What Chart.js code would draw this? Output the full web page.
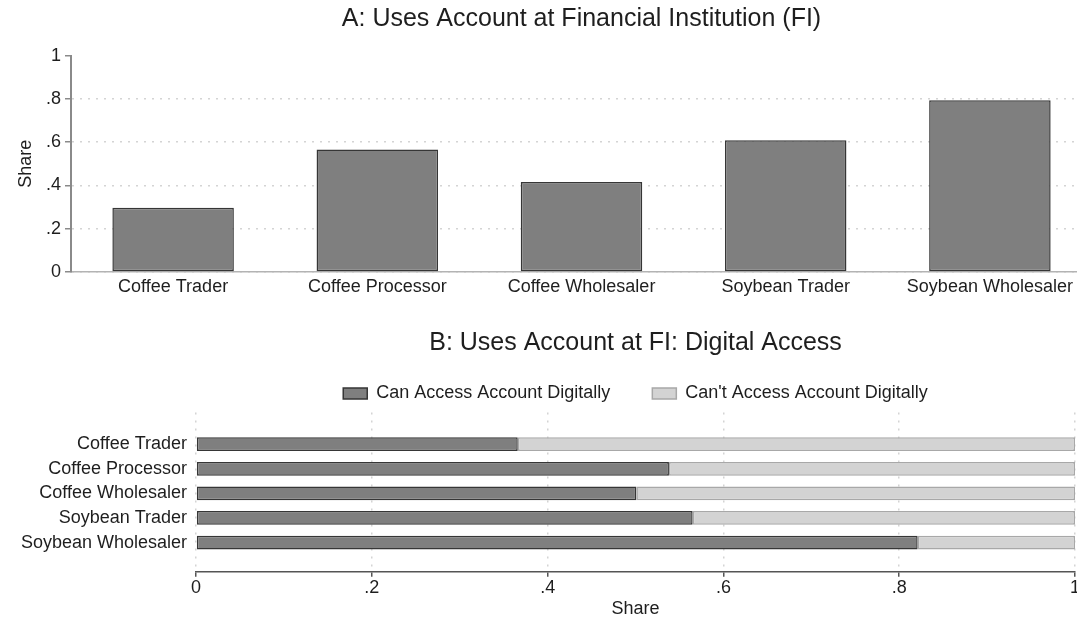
<!DOCTYPE html>
<html>
<head>
<meta charset="utf-8">
<script src="https://cdn.jsdelivr.net/npm/chart.js@4.4.1/dist/chart.umd.min.js"></script>
<style>
    html, body { margin: 0; padding: 0; background: #fff; overflow: hidden; }
    #wrap { position: relative; width: 1077px; height: 620px; overflow: hidden; }
    #topChart { position: absolute; left: 0; top: 0; }
    #bottomChart { position: absolute; left: 0; top: 320px; }
</style>
</head>
<body>
<div id="wrap">
    <canvas id="topChart" width="1093" height="300"></canvas>
    <canvas id="bottomChart" width="1090" height="300"></canvas>
</div>
<script>
// Actor types and shares
const categories = ['Coffee Trader', 'Coffee Processor', 'Coffee Wholesaler', 'Soybean Trader', 'Soybean Wholesaler'];
const usesAccount = [0.297, 0.566, 0.416, 0.609, 0.794];
const canAccess = [0.366, 0.538, 0.501, 0.565, 0.821];
const cannotAccess = [0.634, 0.462, 0.499, 0.435, 0.179];

// Axis ticks (Stata style labels)
const shareTicks = [0, 0.2, 0.4, 0.6, 0.8, 1];
const shareTickLabels = ['0', '.2', '.4', '.6', '.8', '1'];

const DARK = '#7f7f7f';
const DARK_EDGE = '#363636';
const LIGHT = '#d3d3d3';
const LIGHT_EDGE = '#a8a8a8';
const GRID = '#d4d4d4';
const TEXT = '#1e1e1e';

Chart.defaults.font.family = "'Liberation Sans', Arial, Helvetica, sans-serif";
Chart.defaults.font.size = 18;
Chart.defaults.color = TEXT;
Chart.defaults.animation = false;

function setShareTicks(scale) {
    scale.ticks = shareTicks.map(v => ({ value: v }));
}

// Panel A: vertical bars
new Chart(document.getElementById('topChart'), {
    type: 'bar',
    data: {
        labels: categories,
        datasets: [{
            label: 'Uses Account at FI',
            data: usesAccount,
            backgroundColor: DARK,
            borderColor: DARK_EDGE,
            borderWidth: 1.5,
            borderSkipped: false,
            barPercentage: 0.595,
            categoryPercentage: 1
        }]
    },
    options: {
        responsive: false,
        devicePixelRatio: 1,
        layout: { padding: { left: 0, right: 1, top: 0, bottom: -1.6 } },
        plugins: {
            legend: { display: false },
            tooltip: { enabled: false },
            title: {
                display: true,
                fullSize: false,
                text: 'A: Uses Account at Financial Institution (FI)',
                color: TEXT,
                font: { size: 25, weight: 'normal' },
                padding: { top: 4, bottom: 21.7 }
            }
        },
        scales: {
            x: {
                grid: { display: false, drawTicks: false },
                border: { display: true, color: '#b3b3b3', width: 1.5 },
                ticks: { padding: 4, color: TEXT, maxRotation: 0, autoSkip: false }
            },
            y: {
                min: 0,
                max: 1,
                afterBuildTicks: setShareTicks,
                title: {
                    display: true,
                    text: 'Share',
                    color: TEXT,
                    font: { size: 18 },
                    padding: { top: 15.7, bottom: 4.7 }
                },
                ticks: {
                    padding: 4,
                    color: TEXT,
                    callback: (v, i) => shareTickLabels[i]
                },
                grid: {
                    color: ctx => (ctx.tick && ctx.tick.value === 1) ? 'rgba(0,0,0,0)' : GRID,
                    lineWidth: 1.5,
                    drawTicks: true,
                    tickLength: 6,
                    tickColor: '#8a8a8a',
                    tickWidth: 1.5,
                    tickBorderDash: []
                },
                border: { display: true, color: '#8a8a8a', width: 2, dash: [2, 6] }
            }
        }
    }
});

// Panel B: horizontal stacked bars, index axis kept linear so the outer gaps can be set
new Chart(document.getElementById('bottomChart'), {
    type: 'bar',
    data: {
        datasets: [{
            label: 'Can Access Account Digitally',
            data: canAccess.map((v, i) => ({ x: v, y: i })),
            backgroundColor: DARK,
            borderColor: DARK_EDGE,
            borderWidth: 1.5,
            borderSkipped: false,
            barPercentage: 0.56,
            categoryPercentage: 1
        }, {
            label: "Can't Access Account Digitally",
            data: cannotAccess.map((v, i) => ({ x: v, y: i })),
            backgroundColor: LIGHT,
            borderColor: LIGHT_EDGE,
            borderWidth: 1.5,
            borderSkipped: false,
            barPercentage: 0.56,
            categoryPercentage: 1
        }]
    },
    options: {
        indexAxis: 'y',
        responsive: false,
        devicePixelRatio: 1,
        layout: { padding: { left: 12, right: 15, top: 0, bottom: 0 } },
        plugins: {
            tooltip: { enabled: false },
            title: {
                display: true,
                fullSize: false,
                text: 'B: Uses Account at FI: Digital Access',
                color: TEXT,
                font: { size: 25, weight: 'normal' },
                padding: { top: 8, bottom: -15.5 }
            },
            legend: {
                display: true,
                fullSize: false,
                position: 'top',
                labels: {
                    boxWidth: 24,
                    boxHeight: 11,
                    padding: 42,
                    color: TEXT,
                    font: { size: 18 }
                }
            }
        },
        scales: {
            x: {
                type: 'linear',
                stacked: true,
                min: 0,
                max: 1,
                afterBuildTicks: setShareTicks,
                title: {
                    display: true,
                    text: 'Share',
                    color: TEXT,
                    font: { size: 18 },
                    padding: { top: 0, bottom: 0 }
                },
                ticks: {
                    padding: 0,
                    color: TEXT,
                    maxRotation: 0,
                    callback: (v, i) => shareTickLabels[i]
                },
                grid: {
                    color: GRID,
                    lineWidth: 1.5,
                    drawTicks: true,
                    tickLength: 5,
                    tickColor: '#555555',
                    tickWidth: 1.5,
                    tickBorderDash: []
                },
                border: { display: true, color: '#555555', width: 1.5, dash: [2, 6] }
            },
            y: {
                type: 'linear',
                stacked: true,
                reverse: true,
                offset: false,
                bounds: 'data',
                min: -1.29,
                max: 5.19,
                afterDataLimits: scale => {
                    scale.min = -1.29;
                    scale.max = 5.19;
                },
                afterBuildTicks: scale => {
                    scale.min = -1.29;
                    scale.max = 5.19;
                    scale.ticks = categories.map((c, i) => ({ value: i }));
                },
                ticks: {
                    padding: 9,
                    color: TEXT,
                    callback: v => categories[v]
                },
                grid: { display: false, drawTicks: false },
                border: { display: false }
            }
        }
    }
});
</script>
</body>
</html>
